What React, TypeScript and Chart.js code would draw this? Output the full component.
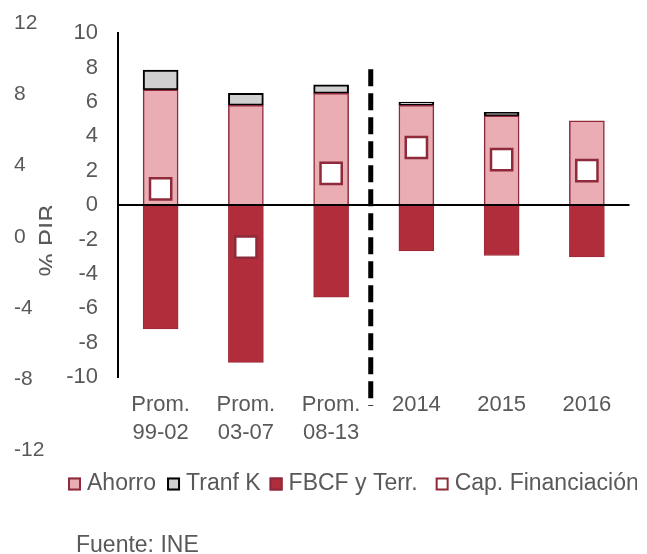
import React, { useEffect, useRef } from "react";
import { Chart, registerables } from "chart.js";

Chart.register(...registerables);

const categories: (string | string[])[] = [
  ["Prom.", "99-02"],
  ["Prom.", "03-07"],
  ["Prom.", "08-13"],
  "2014",
  "2015",
  "2016",
];
const ahorro = [6.7, 5.8, 6.5, 5.8, 5.2, 4.9];
const tranfK = [1.15, 0.7, 0.5, 0.2, 0.2, 0];
const fbcf = [-7.2, -9.15, -5.35, -2.67, -2.93, -3.02];
const capFin = [0.95, -2.44, 1.85, 3.35, 2.65, 2.0];

const yMin = -10;
const yMax = 10;
const yStep = 2;
const ghostTicks = [12, 8, 4, 0, -4, -8, -12];
const seriesNames = ["Ahorro", "Tranf K", "FBCF y Terr.", "Cap. Financiación"];
const axisTitle = "% PIB";
const sourceNote = "Fuente: INE";

const FONT = '"Liberation Sans", Arial, sans-serif';
const TEXT = "#595959";
const DARK_RED = "#8E2A3A";

const legendStyles = [
  { fill: "#E9ADB3", stroke: DARK_RED, gapAfter: 11 },
  { fill: "#D0D0D0", stroke: "#000000", gapAfter: 9 },
  { fill: "#B22D3C", stroke: DARK_RED, gapAfter: 18 },
  { fill: "#FFFFFF", stroke: DARK_RED, gapAfter: 10 },
];

const overlayPlugin = {
  id: "overlay",
  afterDraw(chart: any) {
    const ctx: CanvasRenderingContext2D = chart.ctx;
    const xs = chart.scales.x;
    const ys = chart.scales.y;
    const area = chart.chartArea;
    ctx.save();

    // ghost labels on the far left
    ctx.font = `21px ${FONT}`;
    ctx.fillStyle = TEXT;
    ctx.textAlign = "left";
    ctx.textBaseline = "middle";
    const ghostTop = area.top - 10;
    const ghostStep = 17.8;
    ghostTicks.forEach((v) => {
      ctx.fillText(String(v), 14, ghostTop + (12 - v) * ghostStep);
    });

    // rotated, clipped axis title
    ctx.save();
    ctx.beginPath();
    ctx.rect(0, 0, 52, chart.height);
    ctx.clip();
    ctx.translate(56.5, 240.5);
    ctx.rotate(-Math.PI / 2);
    ctx.font = `26px ${FONT}`;
    ctx.textAlign = "center";
    ctx.textBaseline = "alphabetic";
    ctx.fillStyle = TEXT;
    ctx.fillText(axisTitle, 0, 0);
    ctx.restore();

    // dashed separator
    const sepX = (xs.getPixelForValue(2) + xs.getPixelForValue(3)) / 2 - 3;
    ctx.beginPath();
    ctx.setLineDash([17, 7]);
    ctx.lineWidth = 5;
    ctx.strokeStyle = "#000";
    ctx.moveTo(sepX, ys.getPixelForValue(7.9));
    ctx.lineTo(sepX, area.bottom + 29);
    ctx.stroke();
    ctx.setLineDash([]);

    // legend (clipped at the right like the original)
    ctx.save();
    ctx.beginPath();
    ctx.rect(0, 440, 637, 80);
    ctx.clip();
    ctx.font = `23px ${FONT}`;
    ctx.textBaseline = "middle";
    ctx.textAlign = "left";
    let lx = 68;
    const ly = 484;
    seriesNames.forEach((name, i) => {
      const st = legendStyles[i];
      ctx.fillStyle = st.fill;
      ctx.fillRect(lx, ly - 6.5, 13, 13);
      ctx.lineWidth = 2;
      ctx.strokeStyle = st.stroke;
      ctx.strokeRect(lx + 1, ly - 5.5, 11, 11);
      lx += 13 + 6;
      ctx.fillStyle = TEXT;
      ctx.fillText(name, lx, ly);
      lx += ctx.measureText(name).width + st.gapAfter;
    });
    ctx.restore();

    // source
    ctx.font = `23px ${FONT}`;
    ctx.textBaseline = "alphabetic";
    ctx.fillStyle = TEXT;
    ctx.fillText(sourceNote, 76, 552);

    ctx.restore();
  },
};

export default function App() {
  const ref = useRef<HTMLCanvasElement | null>(null);

  useEffect(() => {
    if (!ref.current) return;
    Chart.defaults.font.family = FONT;
    const chart = new Chart(ref.current, {
      type: "bar",
      data: {
        labels: categories as any,
        datasets: [
          {
            type: "line" as any,
            label: seriesNames[3],
            data: capFin,
            showLine: false,
            pointStyle: "rect",
            pointRadius: 15,
            pointHoverRadius: 15,
            pointBackgroundColor: "#FFFFFF",
            pointBorderColor: DARK_RED,
            pointBorderWidth: 2.5,
            backgroundColor: "#FFFFFF",
            borderColor: DARK_RED,
            stack: "cap",
            order: 0,
          } as any,
          {
            label: seriesNames[0],
            data: ahorro,
            backgroundColor: "#E9ADB3",
            borderColor: DARK_RED,
            borderWidth: 1.5,
            barThickness: 35,
            stack: "bars",
            order: 1,
          },
          {
            label: seriesNames[1],
            data: tranfK,
            backgroundColor: "#D0D0D0",
            borderColor: "#000000",
            borderWidth: 2,
            borderSkipped: false,
            barThickness: 35,
            stack: "bars",
            order: 1,
          },
          {
            label: seriesNames[2],
            data: fbcf,
            backgroundColor: "#B22D3C",
            borderColor: "#9A2A38",
            borderWidth: 1,
            barThickness: 35,
            stack: "bars",
            order: 1,
          },
        ],
      },
      options: {
        responsive: false,
        animation: false,
        devicePixelRatio: 1,
        layout: { padding: { top: 33, right: 13, bottom: 97, left: 0 } },
        plugins: {
          legend: { display: false },
          tooltip: { enabled: false },
        },
        scales: {
          x: {
            stacked: true,
            grid: { display: false, drawTicks: false },
            border: { display: false },
            ticks: {
              color: TEXT,
              font: { size: 22, lineHeight: 28 / 22 },
              padding: 14,
              maxRotation: 0,
              autoSkip: false,
            },
            afterFit: (s: any) => {
              s.height = 80;
            },
          },
          y: {
            stacked: true,
            min: yMin,
            max: yMax,
            grid: {
              display: true,
              drawTicks: false,
              lineWidth: 2,
              color: (c: any) => (c.tick && c.tick.value === 0 ? "#000000" : "rgba(0,0,0,0)"),
            },
            border: { display: true, color: "#000000", width: 2 },
            ticks: {
              stepSize: yStep,
              color: TEXT,
              font: { size: 22 },
              padding: 20,
            },
            afterFit: (s: any) => {
              s.width = 118;
            },
          },
        },
      },
      plugins: [overlayPlugin],
    });
    return () => chart.destroy();
  }, []);

  return (
    <div style={{ position: "fixed", left: 0, top: 0, width: 647, height: 554, background: "#fff" }}>
      <canvas ref={ref} width={647} height={554} style={{ display: "block" }} />
    </div>
  );
}
